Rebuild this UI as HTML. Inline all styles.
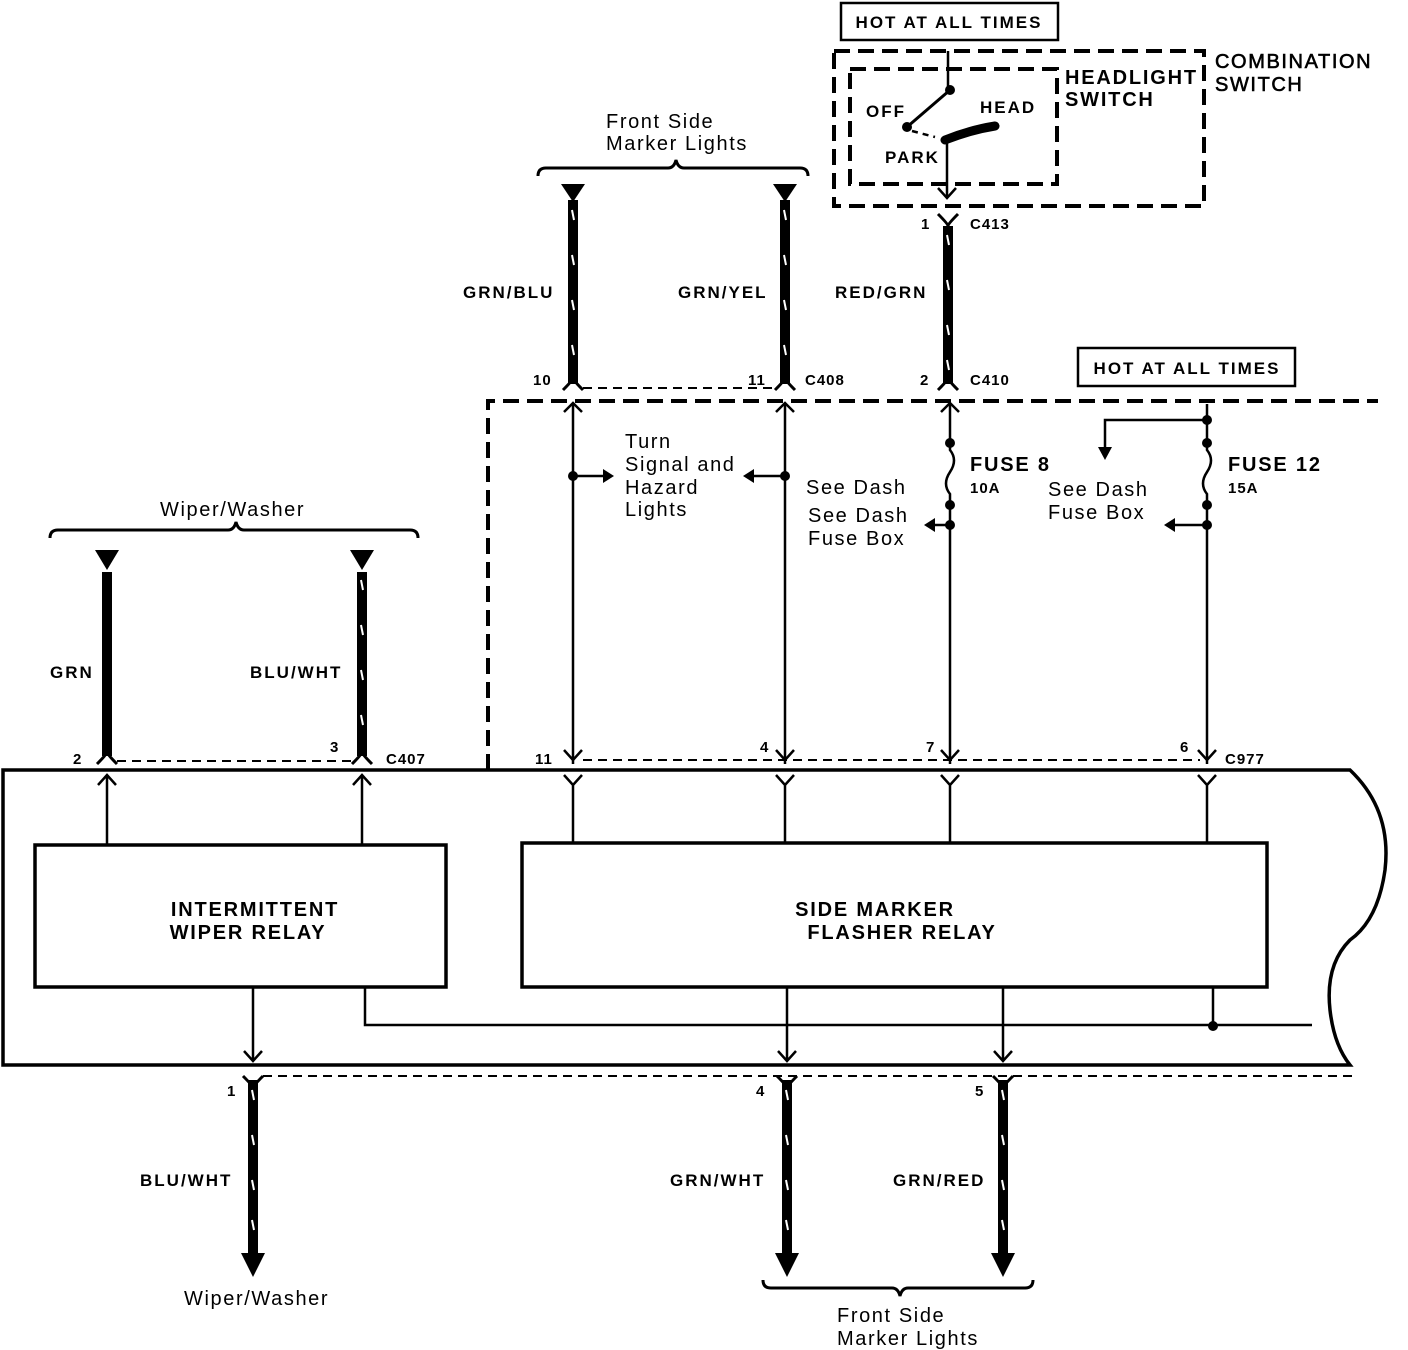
<!DOCTYPE html>
<html><head><meta charset="utf-8"><style>
html,body{margin:0;padding:0;background:#fff;}
svg{display:block;}
text{font-family:"Liberation Sans",Arial,sans-serif;fill:#000;}
.s{font-size:17px;font-weight:bold;letter-spacing:2px;}
.n{font-size:15px;font-weight:bold;letter-spacing:1px;}
.m{font-size:20px;letter-spacing:1.6px;}
.h{font-size:20px;font-weight:bold;letter-spacing:1.8px;}
</style></head><body>
<svg width="1408" height="1350" viewBox="0 0 1408 1350" xmlns="http://www.w3.org/2000/svg">
<g fill="none" stroke="#000">
<rect x="841" y="3" width="217" height="37" stroke-width="2.5"/>
<rect x="834" y="51" width="370" height="155" stroke-width="4" stroke-dasharray="16,8"/>
<rect x="850" y="69" width="207" height="115" stroke-width="4" stroke-dasharray="16,8"/>
<line x1="948" y1="51" x2="948" y2="90" stroke-width="2.5"/>
<line x1="950" y1="90" x2="907" y2="127" stroke-width="3"/>
<path d="M912,131 L935,137" stroke-width="2.5" stroke-dasharray="6,5"/>
<path d="M945,140 Q970,130 995,126" stroke-width="9" stroke-linecap="round"/>
<line x1="947" y1="138" x2="947" y2="198" stroke-width="2.5"/>
<path d="M938,188 L947,198 L956,188" stroke-width="2.5"/>
<rect x="1078" y="348" width="217" height="38" stroke-width="2.5"/>
<path d="M488,770 L488,401 L1378,401" stroke-width="4" stroke-dasharray="16,8"/>
<path d="M538,176 Q538,168 546,168 L668,168 Q674,168 676,160 Q678,168 684,168 L800,168 Q808,168 808,176" stroke-width="3"/>
<path d="M50,538 Q50,530 58,530 L228,530 Q234,530 236,522 Q238,530 244,530 L410,530 Q418,530 418,538" stroke-width="3"/>
<path d="M763,1280 Q763,1288 771,1288 L892,1288 Q898,1288 900,1296 Q902,1288 908,1288 L1025,1288 Q1033,1288 1033,1280" stroke-width="3"/>
<g stroke-width="10">
<line x1="573" y1="200" x2="573" y2="384"/>
<line x1="785" y1="200" x2="785" y2="384"/>
<line x1="948" y1="226" x2="948" y2="384"/>
<line x1="107" y1="572" x2="107" y2="756"/>
<line x1="362" y1="572" x2="362" y2="756"/>
<line x1="253" y1="1080" x2="253" y2="1255"/>
<line x1="787" y1="1080" x2="787" y2="1255"/>
<line x1="1003" y1="1080" x2="1003" y2="1255"/>
</g>
<g stroke-width="3">
<path d="M563,390 Q573,380 573,378 Q573,380 583,390"/>
<path d="M775,390 Q785,380 785,378 Q785,380 795,390"/>
<path d="M938,390 Q948,380 948,378 Q948,380 958,390"/>
<path d="M97,764 Q107,754 107,752 Q107,754 117,764"/>
<path d="M352,764 Q362,754 362,752 Q362,754 372,764"/>
<path d="M938,214 Q948,224 948,226 Q948,224 958,214"/>
<path d="M243,1076 Q253,1086 253,1088 Q253,1086 263,1076"/>
<path d="M777,1076 Q787,1086 787,1088 Q787,1086 797,1076"/>
<path d="M993,1076 Q1003,1086 1003,1088 Q1003,1086 1013,1076"/>
</g>
<g stroke="#fff" stroke-width="2">
<path d="M572,210 l2,10 M572,255 l2,10 M572,300 l2,10 M572,345 l2,10"/>
<path d="M784,210 l2,10 M784,255 l2,10 M784,300 l2,10 M784,345 l2,10"/>
<path d="M947,235 l2,10 M947,280 l2,10 M947,325 l2,10 M947,360 l2,10"/>
<path d="M361,580 l2,10 M361,625 l2,10 M361,670 l2,10 M361,715 l2,10"/>
<path d="M252,1090 l2,10 M252,1135 l2,10 M252,1180 l2,10 M252,1220 l2,10"/>
<path d="M786,1090 l2,10 M786,1135 l2,10 M786,1180 l2,10 M786,1220 l2,10"/>
<path d="M1002,1090 l2,10 M1002,1135 l2,10 M1002,1180 l2,10 M1002,1220 l2,10"/>
</g>
<g stroke-width="2" stroke-dasharray="9,6">
<line x1="583" y1="388" x2="775" y2="388"/>
<line x1="117" y1="761" x2="352" y2="761"/>
<line x1="583" y1="760" x2="1200" y2="760"/>
<line x1="263" y1="1076" x2="1358" y2="1076"/>
</g>
<g stroke-width="2.5">
<line x1="573" y1="404" x2="573" y2="764"/>
<line x1="785" y1="404" x2="785" y2="764"/>
<line x1="950" y1="404" x2="950" y2="443"/>
<path d="M950,443 L950,450 Q958,460 950,472 Q942,484 950,494 L950,764"/>
<line x1="1207" y1="404" x2="1207" y2="443"/>
<path d="M1207,443 L1207,450 Q1215,460 1207,472 Q1199,484 1207,494 L1207,764"/>
<path d="M1207,420 L1105,420 L1105,450"/>
<line x1="573" y1="476" x2="605" y2="476"/>
<line x1="785" y1="476" x2="752" y2="476"/>
<line x1="950" y1="525" x2="933" y2="525"/>
<line x1="1207" y1="525" x2="1173" y2="525"/>
<path d="M564,412 L573,403 L582,412 M776,412 L785,403 L794,412 M941,412 L950,403 L959,412"/>
<path d="M564,750 L573,760 L582,750 M776,750 L785,760 L794,750 M941,750 L950,760 L959,750 M1198,750 L1207,760 L1216,750"/>
</g>
<path d="M3,770 L1350,770 Q1392,810 1385,870 Q1378,920 1350,940 Q1325,965 1330,1010 Q1334,1045 1350,1065 L3,1065 Z" stroke-width="3.5"/>
<g stroke-width="2.5">
<path d="M98,785 L107,775 L116,785 M107,775 L107,845"/>
<path d="M353,785 L362,775 L371,785 M362,775 L362,845"/>
<path d="M564,775 L573,785 L582,775 M573,785 L573,843"/>
<path d="M776,775 L785,785 L794,775 M785,785 L785,843"/>
<path d="M941,775 L950,785 L959,775 M950,785 L950,843"/>
<path d="M1198,775 L1207,785 L1216,775 M1207,785 L1207,843"/>
<path d="M253,987 L253,1060 M244,1051 L253,1061 L262,1051"/>
<path d="M787,987 L787,1060 M778,1051 L787,1061 L796,1051"/>
<path d="M1003,987 L1003,1060 M994,1051 L1003,1061 L1012,1051"/>
<path d="M365,987 L365,1025 L1312,1025"/>
<path d="M1213,987 L1213,1025"/>
</g>
<rect x="35" y="845" width="411" height="142" stroke-width="3.5"/>
<rect x="522" y="843" width="745" height="144" stroke-width="3.5"/>
</g>
<g fill="#000">
<circle cx="950" cy="90" r="5"/><circle cx="907" cy="127" r="5"/>
<polygon points="561,184 585,184 573,202"/>
<polygon points="773,184 797,184 785,202"/>
<polygon points="95,550 119,550 107,570"/>
<polygon points="350,550 374,550 362,570"/>
<polygon points="241,1253 265,1253 253,1277"/>
<polygon points="775,1253 799,1253 787,1277"/>
<polygon points="991,1253 1015,1253 1003,1277"/>
<circle cx="573" cy="476" r="5"/><circle cx="785" cy="476" r="5"/>
<polygon points="603,469 614,476 603,483"/>
<polygon points="754,469 743,476 754,483"/>
<circle cx="950" cy="443" r="5"/><circle cx="950" cy="505" r="5"/><circle cx="950" cy="525" r="5"/>
<circle cx="1207" cy="420" r="5"/><circle cx="1207" cy="443" r="5"/><circle cx="1207" cy="505" r="5"/><circle cx="1207" cy="525" r="5"/>
<polygon points="935,518 924,525 935,532"/>
<polygon points="1175,518 1164,525 1175,532"/>
<polygon points="1098,447 1112,447 1105,460"/>
<circle cx="1213" cy="1026" r="5"/>
</g>
<text x="949" y="28" class="s" text-anchor="middle">HOT AT ALL TIMES</text>
<text x="1187" y="374" class="s" text-anchor="middle">HOT AT ALL TIMES</text>
<text x="1065" y="84" class="h">HEADLIGHT</text>
<text x="1065" y="106" class="h">SWITCH</text>
<text x="1215" y="68" class="m" style="stroke:#000;stroke-width:0.6">COMBINATION</text>
<text x="1215" y="91" class="m" style="stroke:#000;stroke-width:0.6">SWITCH</text>
<text x="866" y="117" class="s">OFF</text>
<text x="980" y="113" class="s">HEAD</text>
<text x="885" y="163" class="s">PARK</text>
<text x="606" y="128" class="m">Front Side</text>
<text x="606" y="150" class="m">Marker Lights</text>
<text x="160" y="516" class="m">Wiper/Washer</text>
<text x="463" y="298" class="s">GRN/BLU</text>
<text x="678" y="298" class="s">GRN/YEL</text>
<text x="835" y="298" class="s">RED/GRN</text>
<text x="50" y="678" class="s">GRN</text>
<text x="250" y="678" class="s">BLU/WHT</text>
<text x="140" y="1186" class="s">BLU/WHT</text>
<text x="670" y="1186" class="s">GRN/WHT</text>
<text x="893" y="1186" class="s">GRN/RED</text>
<text x="921" y="229" class="n">1</text><text x="970" y="229" class="n">C413</text>
<text x="533" y="385" class="n">10</text><text x="748" y="385" class="n">11</text><text x="805" y="385" class="n">C408</text>
<text x="920" y="385" class="n">2</text><text x="970" y="385" class="n">C410</text>
<text x="73" y="764" class="n">2</text><text x="330" y="752" class="n">3</text><text x="386" y="764" class="n">C407</text>
<text x="535" y="764" class="n">11</text><text x="760" y="752" class="n">4</text><text x="926" y="752" class="n">7</text><text x="1180" y="752" class="n">6</text><text x="1225" y="764" class="n">C977</text>
<text x="227" y="1096" class="n">1</text><text x="756" y="1096" class="n">4</text><text x="975" y="1096" class="n">5</text>
<text x="625" y="448" class="m">Turn</text>
<text x="625" y="471" class="m">Signal and</text>
<text x="625" y="494" class="m">Hazard</text>
<text x="625" y="516" class="m">Lights</text>
<text x="806" y="494" class="m">See Dash</text>
<text x="808" y="522" class="m">See Dash</text>
<text x="808" y="545" class="m">Fuse Box</text>
<text x="970" y="471" class="h">FUSE 8</text>
<text x="970" y="493" class="n">10A</text>
<text x="1228" y="471" class="h">FUSE 12</text>
<text x="1228" y="493" class="n">15A</text>
<text x="1048" y="496" class="m">See Dash</text>
<text x="1048" y="519" class="m">Fuse Box</text>
<text x="255" y="916" class="h" text-anchor="middle">INTERMITTENT</text>
<text x="248" y="939" class="h" text-anchor="middle">WIPER RELAY</text>
<text x="875" y="916" class="h" text-anchor="middle">SIDE MARKER</text>
<text x="902" y="939" class="h" text-anchor="middle">FLASHER RELAY</text>
<text x="184" y="1305" class="m">Wiper/Washer</text>
<text x="837" y="1322" class="m">Front Side</text>
<text x="837" y="1345" class="m">Marker Lights</text>
</svg>
</body></html>
